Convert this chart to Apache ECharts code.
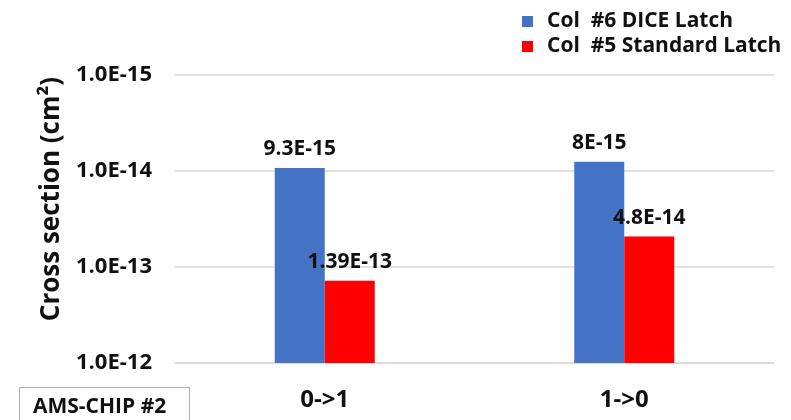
<!DOCTYPE html>
<html>
<head>
<meta charset="utf-8">
<script src="https://cdn.jsdelivr.net/npm/echarts@6/dist/echarts.min.js"></script>
<style>
  html, body { margin: 0; padding: 0; background: #fff; }
  #chart { width: 791px; height: 420px; }
</style>
</head>
<body>
<div id="chart"></div>
<script>
// Transitions on the x axis
const categories = ['0->1', '1->0'];

// Measured cross sections (cm²) per latch type
const diceValues = [9.3e-15, 8e-15];
const diceLabels = ['9.3E-15', '8E-15'];
const standardValues = [1.39e-13, 4.8e-14];
const standardLabels = ['1.39E-13', '4.8E-14'];

// Decade ticks on the log axis, top to bottom
const yTickLabels = ['1.0E-15', '1.0E-14', '1.0E-13', '1.0E-12'];

const seriesNames = ['Col  #6 DICE Latch', 'Col  #5 Standard Latch'];

const FONT = '"Open Sans", "Noto Sans", sans-serif';
const INK = '#111';

const chart = echarts.init(document.getElementById('chart'), null, { renderer: 'canvas' });

function labelFor(texts) {
  return {
    show: true,
    position: 'top',
    distance: 8,
    color: INK,
    fontFamily: FONT,
    fontWeight: 'bold',
    fontSize: 21,
    formatter: p => texts[p.dataIndex]
  };
}

chart.setOption({
  backgroundColor: '#fff',
  animation: false,
  title: {
    text: 'AMS-CHIP #2',
    left: 19,
    top: 387,
    padding: [10, 24, 30, 14],
    borderColor: '#b0b0b0',
    borderWidth: 1,
    textStyle: { fontFamily: FONT, fontWeight: 'bold', fontSize: 21, color: INK }
  },
  legend: {
    orient: 'vertical',
    left: 517,
    top: 6,
    itemWidth: 11,
    itemHeight: 11,
    itemGap: 4,
    icon: 'rect',
    textStyle: { fontFamily: FONT, fontWeight: 'bold', fontSize: 21, color: INK, padding: [0, 0, 0, 9] },
    data: seriesNames
  },
  grid: { left: 175, right: 17, top: 75, bottom: 57 },
  xAxis: {
    type: 'category',
    data: categories,
    axisLine: { show: false },
    axisTick: { show: false },
    axisLabel: { margin: 25, color: INK, fontFamily: FONT, fontWeight: 'bold', fontSize: 24 }
  },
  yAxis: {
    type: 'log',
    logBase: 10,
    inverse: true,
    min: 1e-15,
    max: 1e-12,
    startValue: 1e-12,
    name: 'Cross section (cm²)',
    nameLocation: 'middle',
    nameRotate: 90,
    nameGap: 110,
    nameTextStyle: { fontFamily: FONT, fontWeight: 'bold', fontSize: 26, color: INK, padding: [0, 0, 0, 40] },
    axisLine: { show: false },
    axisTick: { show: false },
    splitLine: { show: true, lineStyle: { color: '#d9d9d9', width: 1.5 } },
    axisLabel: {
      margin: 23,
      color: INK,
      fontFamily: FONT,
      fontWeight: 'bold',
      fontSize: 22,
      formatter: (v, i) => yTickLabels[i]
    }
  },
  series: [
    {
      name: seriesNames[0],
      type: 'bar',
      data: diceValues,
      barWidth: 50,
      barGap: '0%',
      clip: true,
      itemStyle: { color: '#4472c4' },
      label: labelFor(diceLabels)
    },
    {
      name: seriesNames[1],
      type: 'bar',
      data: standardValues,
      barWidth: 50,
      barGap: '0%',
      clip: true,
      itemStyle: { color: '#ff0000' },
      label: labelFor(standardLabels)
    }
  ]
});
</script>
</body>
</html>
